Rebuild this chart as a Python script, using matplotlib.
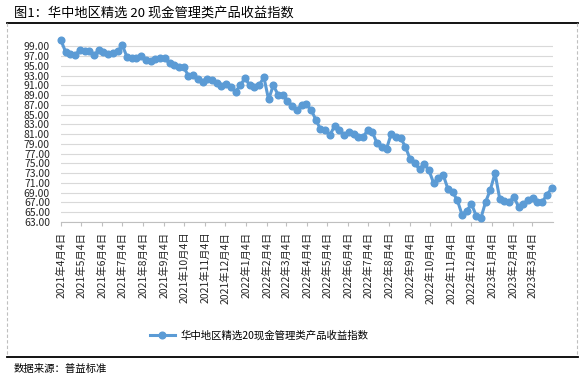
import matplotlib
matplotlib.use('Agg')
import matplotlib.pyplot as plt
from matplotlib.lines import Line2D
import pandas as pd
import numpy as np

plt.rcParams['font.family'] = ['Noto Sans CJK SC', 'DejaVu Sans']

# weekly index values
values = [
    100.2, 97.8, 97.4, 97.2, 98.3, 98.1, 98.0, 97.2, 98.2, 97.8,
    97.4, 97.7, 98.0, 99.2, 96.8, 96.5, 96.6, 97.0, 96.1, 95.9,
    96.3, 96.6, 96.5, 95.5, 95.1, 94.8, 94.7, 93.0, 93.1, 92.2,
    91.6, 92.2, 92.0, 91.4, 90.9, 91.2, 90.6, 89.7, 91.0, 92.5,
    91.0, 90.6, 91.0, 92.7, 88.1, 91.0, 89.1, 89.1, 87.8, 86.8,
    85.9, 87.0, 87.1, 86.0, 84.0, 82.0, 81.8, 80.8, 82.7, 81.9,
    80.8, 81.5, 81.1, 80.5, 80.4, 81.8, 81.4, 79.1, 78.3, 78.0,
    81.1, 80.5, 80.2, 78.4, 75.9, 75.0, 73.8, 74.9, 73.6, 70.9,
    72.0, 72.7, 69.8, 69.1, 67.5, 64.5, 65.3, 66.7, 64.3, 63.8,
    67.1, 69.6, 73.0, 67.7, 67.4, 67.1, 68.1, 66.1, 66.7, 67.5,
    67.9, 67.1, 67.1, 68.6, 69.9,
]
dates = pd.date_range('2021-04-04', periods=len(values), freq='7D')

tick_dates = [pd.Timestamp(2021 + (3 + k) // 12, (3 + k) % 12 + 1, 4) for k in range(24)]
tick_labels = [f'{d.year}年{d.month}月{d.day}日' for d in tick_dates]
y_ticks = np.arange(63, 100, 2)

series_name = '华中地区精选20现金管理类产品收益指数'
title = '图1：华中地区精选 20 现金管理类产品收益指数'
source = '数据来源：普益标准'

W, H = 583, 378
blue = '#5B9BD5'

fig = plt.figure(figsize=(W / 100, H / 100), dpi=100)
ax = fig.add_axes([61 / W, 1 - 222 / H, (553 - 61) / W, (222 - 38) / H])

ax.plot(dates, values, color=blue, lw=2.2, marker='o', ms=4.8,
        clip_on=False, zorder=3)

ax.set_xlim(pd.Timestamp('2021-04-04'), pd.Timestamp('2023-04-04'))
ax.set_ylim(63, 100.7)
ax.set_yticks(y_ticks)
ax.set_yticklabels([f'{v:.2f}' for v in y_ticks])
ax.set_xticks(tick_dates)
ax.set_xticklabels(tick_labels, rotation=90)

ax.grid(axis='y', color='#D9D9D9', lw=0.8)
ax.set_axisbelow(True)
for s in ['top', 'right', 'left']:
    ax.spines[s].set_visible(False)
ax.spines['bottom'].set_color('#BFBFBF')
ax.spines['bottom'].set_linewidth(0.8)
ax.tick_params(axis='y', length=0, pad=8, labelsize=7.5, labelcolor='#262626')
ax.tick_params(axis='x', length=3, width=0.8, color='#BFBFBF', pad=4,
               labelsize=7.5, labelcolor='#262626')

# legend
handle = Line2D([], [], color=blue, lw=2.2, marker='o', ms=4.8)
fig.legend([handle], [series_name], loc='center',
           bbox_to_anchor=(259 / W, 1 - 335 / H), frameon=False,
           fontsize=7.5, handlelength=2.4, handletextpad=0.5)

# title, frame, source
fig.text(14 / W, 1 - 13 / H, title, fontsize=9.5, ha='left', va='center')
fig.add_artist(Line2D([7 / W, 578 / W], [1 - 23 / H] * 2, color='black', lw=1.3))
for x in [7, 577]:
    fig.add_artist(Line2D([x / W] * 2, [1 - 23 / H, 1 - 357 / H],
                          color='#BFBFBF', lw=0.8, ls=(0, (3, 2))))
fig.add_artist(Line2D([7 / W, 578 / W], [1 - 357 / H] * 2, color='black', lw=1.3))
fig.text(14 / W, 1 - 369 / H, source, fontsize=7.5, ha='left', va='center')

fig.savefig('out.png', dpi=100)
